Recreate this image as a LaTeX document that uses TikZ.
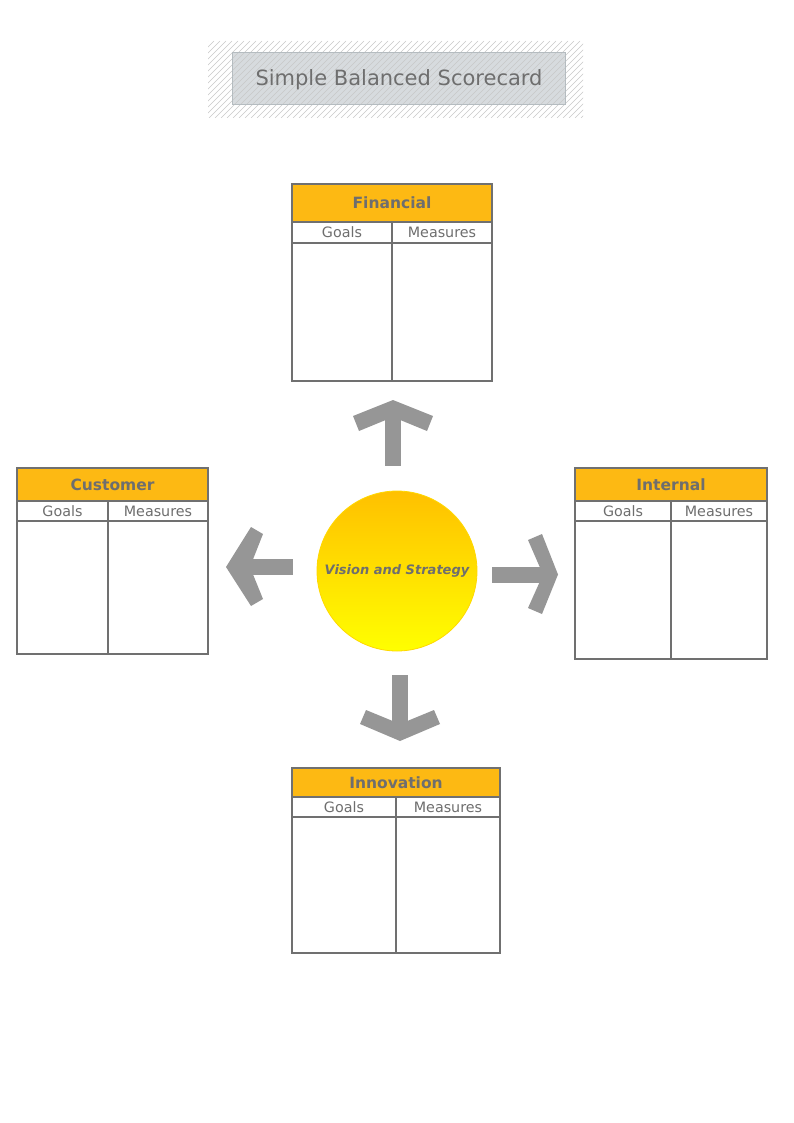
\documentclass[tikz,border=0pt]{standalone}
\usepackage{fontspec}
\setmainfont{DejaVu Sans}
\definecolor{txtgray}{HTML}{6E6E6E}
\definecolor{lineg}{HTML}{707070}
\definecolor{hdrorange}{HTML}{FDB913}
\definecolor{arrowg}{HTML}{969696}
\definecolor{titlefill}{HTML}{D7DBDE}
\definecolor{titleline}{HTML}{B5BCC0}
\definecolor{hatchg}{HTML}{C8C8C8}
\definecolor{circtop}{HTML}{FFC000}
\definecolor{circbot}{HTML}{FFFF00}
\definecolor{circline}{HTML}{FFD800}
\newcommand\bsccard[9]{%
  \node[hdrbox, minimum width={#4pt+#5pt}, minimum height=#6pt, anchor=north west] (#1h) at (#2,#3) {#9};
  \node[cellbox, minimum width=#4pt, minimum height=#7pt, anchor=north west] (#1g) at (#1h.south west) {Goals};
  \node[cellbox, minimum width=#5pt, minimum height=#7pt, anchor=north west] (#1m) at (#1g.north east) {Measures};
  \node[cellbox, minimum width=#4pt, minimum height=#8pt, anchor=north west] (#1l) at (#1g.south west) {};
  \node[cellbox, minimum width=#5pt, minimum height=#8pt, anchor=north west] (#1r) at (#1m.south west) {};
}
\begin{document}
\begin{tikzpicture}[x=1pt,y=-1pt,
  hdrbox/.style={draw=lineg, line width=2pt, fill=hdrorange, inner sep=0pt, outer sep=0pt,
    font=\fontsize{15.5}{18}\selectfont\bfseries, text=txtgray},
  cellbox/.style={draw=lineg, line width=2pt, fill=white, inner sep=0pt, outer sep=0pt,
    font=\fontsize{14.3}{17}\selectfont, text=txtgray},
  arrowshape/.style={fill=arrowg, draw=none},
  hatch/.style={draw=hatchg, line width=0.6pt},
]
\useasboundingbox (0,0) rectangle (794,1123);
% title
\fill[titlefill] (232,52) rectangle (565,104);
\begin{scope}
  \clip (208,41) rectangle (583,118);
  \foreach \i in {208,214,...,670} \draw[hatch] (\i-77,118) -- (\i,41);
\end{scope}
\node[draw=titleline, line width=1pt, minimum width=333pt, minimum height=52pt, inner sep=0pt,
  anchor=north west, font=\fontsize{21}{25}\selectfont, text=txtgray, text depth=0pt, text height=15pt] (title) at (232,52) {Simple Balanced Scorecard};
% cards
\bsccard{fin}{292}{184}{100}{100}{38}{21}{138}{Financial}
\bsccard{cus}{17}{468}{91}{100}{33}{20}{133}{Customer}
\bsccard{int}{575}{468}{96}{96}{33}{20}{138}{Internal}
\bsccard{inn}{292}{768}{104}{104}{29}{20}{136}{Innovation}
% center
\node[circle, minimum size=160pt, inner sep=0pt, top color=circtop, bottom color=circbot,
  draw=circline, line width=0.8pt, font=\fontsize{13}{15}\selectfont\bfseries\itshape, text=txtgray]
  (vis) at (397,571) {Vision and Strategy};
% arrows
\fill[arrowshape] (385,416) rectangle (401,466);
\fill[arrowshape] (393,400) -- (433,416) -- (427,431) -- (393,417) -- (359,431) -- (353,416) -- cycle;
\fill[arrowshape] (392,675) rectangle (408,724);
\fill[arrowshape] (400,741) -- (360,724) -- (366,710) -- (400,724) -- (434,710) -- (440,724) -- cycle;
\fill[arrowshape] (250,559) rectangle (293,574.5);
\fill[arrowshape] (226,567) -- (251,527) -- (263,534) -- (250,567) -- (263,599) -- (251,606) -- cycle;
\fill[arrowshape] (492,567) rectangle (543,582.5);
\fill[arrowshape] (558,574.5) -- (542,534) -- (528,540) -- (543,574.5) -- (528,608) -- (542,614) -- cycle;
\end{tikzpicture}
\end{document}
